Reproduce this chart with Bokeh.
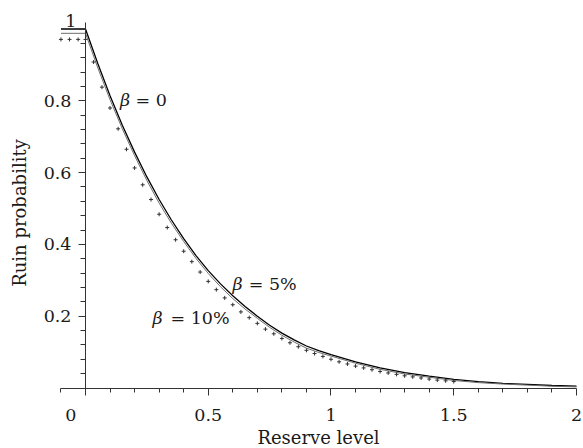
from bokeh.plotting import figure
from bokeh.models import Range1d, LinearAxis, FixedTicker, CustomJSTickFormatter, Label
from bokeh.embed import file_html
from bokeh.resources import INLINE

# ---- data ----
u_grid = [-0.1, 0.0, 0.05, 0.1, 0.15, 0.2, 0.25, 0.3, 0.35, 0.4, 0.45, 0.5, 0.55,
          0.6, 0.65, 0.7, 0.75, 0.8, 0.85, 0.9, 0.95, 1.0,
          1.1, 1.2, 1.3, 1.4, 1.5, 1.6, 1.7, 1.8, 1.9, 2.0]
psi_beta0 = [1.000, 1.000, 0.904, 0.814, 0.732, 0.657, 0.588, 0.525, 0.468, 0.416,
             0.369, 0.327, 0.290, 0.257, 0.227, 0.200, 0.175, 0.153, 0.134, 0.117,
             0.104, 0.093,
             0.073, 0.056, 0.043, 0.033, 0.024, 0.018, 0.013, 0.010, 0.007, 0.005]
psi_beta5 = [0.988, 0.988, 0.892, 0.803, 0.722, 0.647, 0.578, 0.515, 0.459, 0.408,
             0.361, 0.319, 0.282, 0.249, 0.220, 0.194, 0.169, 0.147, 0.128, 0.111,
             0.099, 0.089,
             0.069, 0.052, 0.039, 0.030, 0.021, 0.015, 0.011, 0.008, 0.005, 0.003]
u_beta10 = [-0.1, -0.065, -0.03, 0.0, 0.033, 0.067, 0.1, 0.133, 0.167, 0.2, 0.233,
            0.267, 0.3, 0.333, 0.367, 0.4, 0.433, 0.467, 0.5, 0.533, 0.567, 0.6,
            0.633, 0.667, 0.7, 0.733, 0.767, 0.8, 0.833, 0.867, 0.9, 0.933, 0.967,
            1.0, 1.033, 1.067, 1.1, 1.133, 1.167, 1.2, 1.233, 1.267, 1.3, 1.333,
            1.367, 1.4, 1.433, 1.467, 1.5]
psi_beta10 = [0.971, 0.971, 0.971, 0.971, 0.908, 0.838, 0.780, 0.722, 0.665, 0.613,
              0.566, 0.525, 0.484, 0.447, 0.413, 0.381, 0.352, 0.323, 0.297, 0.274,
              0.251, 0.232, 0.212, 0.196, 0.180, 0.164, 0.151, 0.138, 0.126, 0.115,
              0.105, 0.096, 0.088, 0.080, 0.073, 0.067, 0.061, 0.056, 0.051, 0.046,
              0.042, 0.038, 0.034, 0.031, 0.028, 0.025, 0.022, 0.020, 0.018]

x_major = [0, 0.5, 1, 1.5, 2]
x_minor = [-0.1, 0.1, 0.2, 0.3, 0.4, 0.6, 0.7, 0.8, 0.9, 1.1, 1.2, 1.3, 1.4,
           1.6, 1.7, 1.8, 1.9]
y_major = [0.2, 0.4, 0.6, 0.8, 1.0]
y_minor = [0.04, 0.08, 0.12, 0.16, 0.24, 0.28, 0.32, 0.36, 0.44, 0.48, 0.52, 0.56,
           0.64, 0.68, 0.72, 0.76, 0.84, 0.88, 0.92, 0.96]

FONT = "DejaVu Serif"
FS = "17.5px"
FS_TITLE = "18px"
TXT = "#1a1a1a"
AX = "#333333"

p = figure(width=583, height=448, x_range=Range1d(-0.3462, 2.0285),
           y_range=Range1d(-0.1685, 1.0794),
           output_backend="svg", toolbar_location=None,
           min_border_left=0, min_border_right=0, min_border_top=0, min_border_bottom=0)
p.outline_line_color = None
p.xgrid.visible = False
p.ygrid.visible = False
p.background_fill_color = "white"

def style_axis(ax):
    ax.axis_line_color = AX
    ax.major_tick_line_color = AX
    ax.minor_tick_line_color = AX
    ax.major_tick_in = 0
    ax.minor_tick_in = 0
    ax.major_label_text_font = FONT
    ax.major_label_text_font_size = FS
    ax.major_label_text_color = TXT
    ax.axis_label_text_font = FONT
    ax.axis_label_text_font_size = FS_TITLE
    ax.axis_label_text_font_style = "normal"
    ax.axis_label_text_color = TXT

def bare(ax):
    ax.axis_line_color = None
    ax.major_tick_line_color = None
    ax.minor_tick_line_color = None
    ax.major_tick_out = 0
    ax.minor_tick_out = 0

xa = p.xaxis[0]
style_axis(xa)
xa.fixed_location = 0
xa.bounds = (-0.1, 2.0)
xa.ticker = FixedTicker(ticks=x_major, minor_ticks=x_minor)
xa.formatter = CustomJSTickFormatter(code="return tick == 0 ? '' : String(tick);")
xa.major_tick_out = 7
xa.minor_tick_out = 4
xa.major_label_standoff = 14
xa.axis_label = "Reserve level"
xa.axis_label_standoff = 2

ya = p.yaxis[0]
style_axis(ya)
ya.fixed_location = 0
ya.bounds = (0, 1.019)
ya.ticker = FixedTicker(ticks=y_major, minor_ticks=y_minor)
ya.formatter = CustomJSTickFormatter(code="return tick > 0.99 ? '' : tick.toFixed(1);")
ya.major_tick_out = 7
ya.minor_tick_out = 5
ya.major_label_standoff = 7

# y title on its own bare axis, so that it is centred like the original
yt = LinearAxis(fixed_location=0, bounds=(-0.043, 1.019),
                ticker=FixedTicker(ticks=[], minor_ticks=[]))
style_axis(yt)
bare(yt)
yt.axis_label = "Ruin probability"
yt.axis_label_standoff = 56
p.add_layout(yt, "left")

# lone "0" under the x axis, and "1" at the top of the y axis (offset like the original)
x0 = LinearAxis(fixed_location=0, ticker=FixedTicker(ticks=[-0.06], minor_ticks=[]),
                formatter=CustomJSTickFormatter(code="return '0';"))
style_axis(x0)
bare(x0)
x0.major_label_standoff = 21
p.add_layout(x0, "below")

y1 = LinearAxis(fixed_location=0, ticker=FixedTicker(ticks=[1.0214], minor_ticks=[]),
                formatter=CustomJSTickFormatter(code="return '1';"))
style_axis(y1)
bare(y1)
y1.major_label_standoff = 9
p.add_layout(y1, "left")

p.line(u_grid, psi_beta0, line_color="black", line_width=1.3)
p.line(u_grid, psi_beta5, line_color="#6e6e6e", line_width=1.0)
p.scatter(u_beta10, psi_beta10, marker="cross", size=4, line_color="#333333", line_width=1)

def lab(x, y, text, italic=False):
    p.add_layout(Label(x=x, y=y, text=text, text_font=FONT, text_font_size=FS,
                       text_font_style="italic" if italic else "normal",
                       text_color=TXT, text_align="left", text_baseline="middle"))

lab(0.1405, 0.803, "β", True)
lab(0.2037, 0.803, "= 0")
lab(0.599, 0.290, "β", True)
lab(0.665, 0.290, "= 5%")
lab(0.273, 0.1955, "β", True)
lab(0.346, 0.1955, "= 10%")

open("out.html", "w").write(file_html(p, INLINE))
